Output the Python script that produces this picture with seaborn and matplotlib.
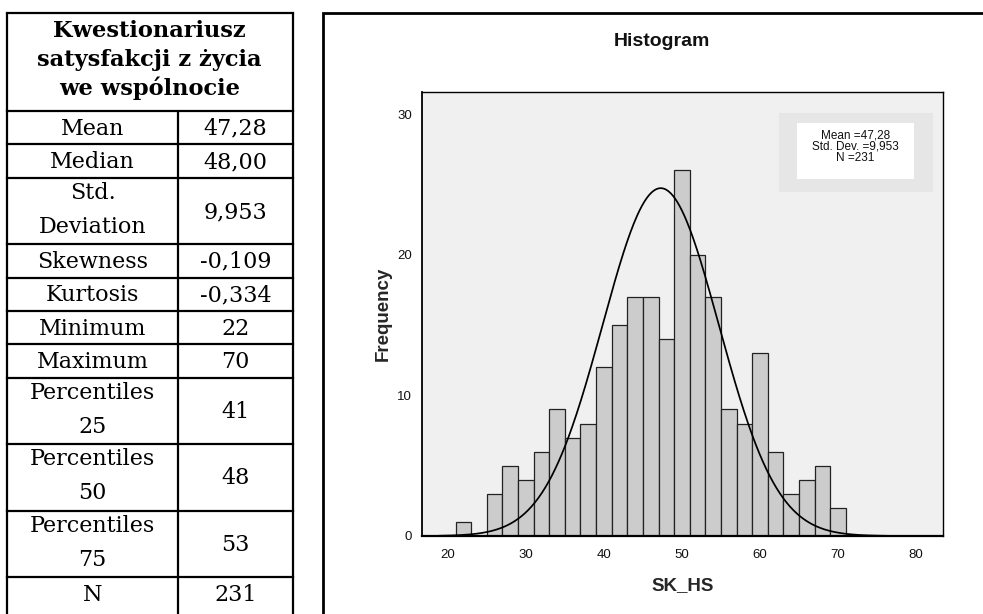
import numpy as np
import pandas as pd
import matplotlib
matplotlib.use("Agg")
import matplotlib.pyplot as plt
from matplotlib.patches import Rectangle
import seaborn as sns

# ---------------- data ----------------
bin_starts = [21, 23, 25, 27, 29, 31, 33, 35, 37, 39, 41, 43, 45, 47, 49,
              51, 53, 55, 57, 59, 61, 63, 65, 67, 69]
counts = [1, 0, 3, 5, 4, 6, 9, 7, 8, 12, 15, 17, 17, 14, 26,
          20, 17, 9, 8, 13, 6, 3, 4, 5, 2]
bin_width = 2
x_ticks = [20, 30, 40, 50, 60, 70, 80]
y_ticks = [0, 10, 20, 30]
n_total = 231
curve_mean = 47.28
curve_sd = 7.45
curve_range = (18.8, 76.2)
stat_lines = ["Mean =47,28", "Std. Dev. =9,953", "N =231"]
chart_title = "Histogram"
x_label = "SK_HS"
y_label = "Frequency"

table_title = ["Kwestionariusz", "satysfakcji z życia", "we wspólnocie"]
table_labels = ["Mean", "Median", "Std.\nDeviation", "Skewness", "Kurtosis",
                "Minimum", "Maximum", "Percentiles\n25", "Percentiles\n50",
                "Percentiles\n75", "N"]
table_values = ["47,28", "48,00", "9,953", "-0,109", "-0,334", "22", "70",
                "41", "48", "53", "231"]

# ---------------- figure ----------------
sns.set_style("white")
plt.rcParams["font.family"] = ["Liberation Sans", "DejaVu Sans"]

W, H = 983, 614
fig = plt.figure(figsize=(W / 100, H / 100), dpi=100)

# histogram axes (pixel box: left 422, right 942.7, top 92, bottom 536)
ax_l, ax_r, ax_t, ax_b = 422, 942.7, 92, 536
ax = fig.add_axes([ax_l / W, (H - ax_b) / H, (ax_r - ax_l) / W, (ax_b - ax_t) / H])
ax.set_facecolor("#f0f0f0")

df = pd.DataFrame({"value": [s + bin_width / 2 for s in bin_starts], "count": counts})
edges = bin_starts + [bin_starts[-1] + bin_width]
sns.histplot(data=df, x="value", weights="count", bins=edges, ax=ax,
             color="#cccccc", edgecolor="#222222", linewidth=0.9, alpha=1.0)

cx = np.linspace(curve_range[0], curve_range[1], 400)
cy = n_total * bin_width / (curve_sd * np.sqrt(2 * np.pi)) * np.exp(-0.5 * ((cx - curve_mean) / curve_sd) ** 2)
sns.lineplot(x=cx, y=cy, ax=ax, color="black", linewidth=1.25)

ax.set_xlim(16.7, 83.4)
ax.set_ylim(0, 31.58)
ax.set_xticks(x_ticks)
ax.set_yticks(y_ticks)
ax.tick_params(axis="both", direction="out", length=6.5, width=1.0, color="black",
               labelsize=9.5, labelcolor="#111111")
ax.tick_params(axis="x", pad=2.5)
ax.tick_params(axis="y", pad=0.5)
for s in ax.spines.values():
    s.set_visible(True)
    s.set_color("black")
ax.spines["left"].set_linewidth(1.3)
ax.spines["bottom"].set_linewidth(1.6)
ax.spines["top"].set_linewidth(1.0)
ax.spines["right"].set_linewidth(1.0)

ax.set_xlabel(x_label, fontsize=13.5, fontweight="bold", va="baseline")
ax.xaxis.set_label_coords(0.5, (ax_b - 590) / (ax_b - ax_t))
ax.set_ylabel(y_label, fontsize=13.5, fontweight="bold", va="center")
ax.yaxis.set_label_coords((383.5 - ax_l) / (ax_r - ax_l), 0.5)

# ---------------- overlay in pixel coordinates ----------------
ov = fig.add_axes([0, 0, 1, 1], zorder=5)
ov.set_xlim(0, W)
ov.set_ylim(H, 0)
ov.axis("off")
ov.patch.set_alpha(0)

# chart frame (cropped on right and bottom)
ov.plot([323.3, 323.3, W + 5], [H + 5, 12.7, 12.7], color="black", lw=2.0,
        solid_joinstyle="miter")

# title
ov.text(662, 46, chart_title, ha="center", va="baseline", fontsize=14,
        fontweight="bold", color="#111111")

# stats box
ov.add_patch(Rectangle((779, 113), 154, 79, facecolor="#e6e6e6", edgecolor="none"))
ov.add_patch(Rectangle((797, 123), 117, 56, facecolor="white", edgecolor="none"))
for i, line in enumerate(stat_lines):
    ov.text(855.5, 135 + i * 11.6, line, ha="center", va="center", fontsize=8.5,
            color="#111111")

# ---------------- table ----------------
tl, tm, tr, tt = 6.7, 178.3, 292.7, 12.7
header_bottom = 111.0
single_h, double_h = 33.4, 66.4
serif = "DejaVu Serif"
lw_tab = 1.6

for i, line in enumerate(table_title):
    ov.text((tl + tr) / 2, [37, 66, 95][i], line, ha="center", va="baseline",
            fontsize=16.2, fontweight="bold", family=serif, color="black")

ov.plot([tl, tr], [tt, tt], color="black", lw=lw_tab, solid_capstyle="projecting")
ov.plot([tl, tl], [tt, H + 5], color="black", lw=lw_tab)
ov.plot([tr, tr], [tt, H + 5], color="black", lw=lw_tab)
ov.plot([tm, tm], [header_bottom, H + 5], color="black", lw=lw_tab)

y = header_bottom
for lab, val in zip(table_labels, table_values):
    ov.plot([tl, tr], [y, y], color="black", lw=lw_tab, solid_capstyle="projecting")
    lines = lab.split("\n")
    h = single_h if len(lines) == 1 else double_h
    c = y + h / 2
    if len(lines) == 1:
        ov.text((tl + tm) / 2, c + 7, lines[0], ha="center", va="baseline",
                fontsize=16, family=serif, color="black")
    else:
        ov.text((tl + tm) / 2, c - 12, lines[0], ha="center", va="baseline",
                fontsize=16, family=serif, color="black")
        ov.text((tl + tm) / 2, c + 22, lines[1], ha="center", va="baseline",
                fontsize=16, family=serif, color="black")
    ov.text((tm + tr) / 2, c + 7, val, ha="center", va="baseline",
            fontsize=16, family=serif, color="black")
    y += h

fig.savefig("out.png", dpi=100)
